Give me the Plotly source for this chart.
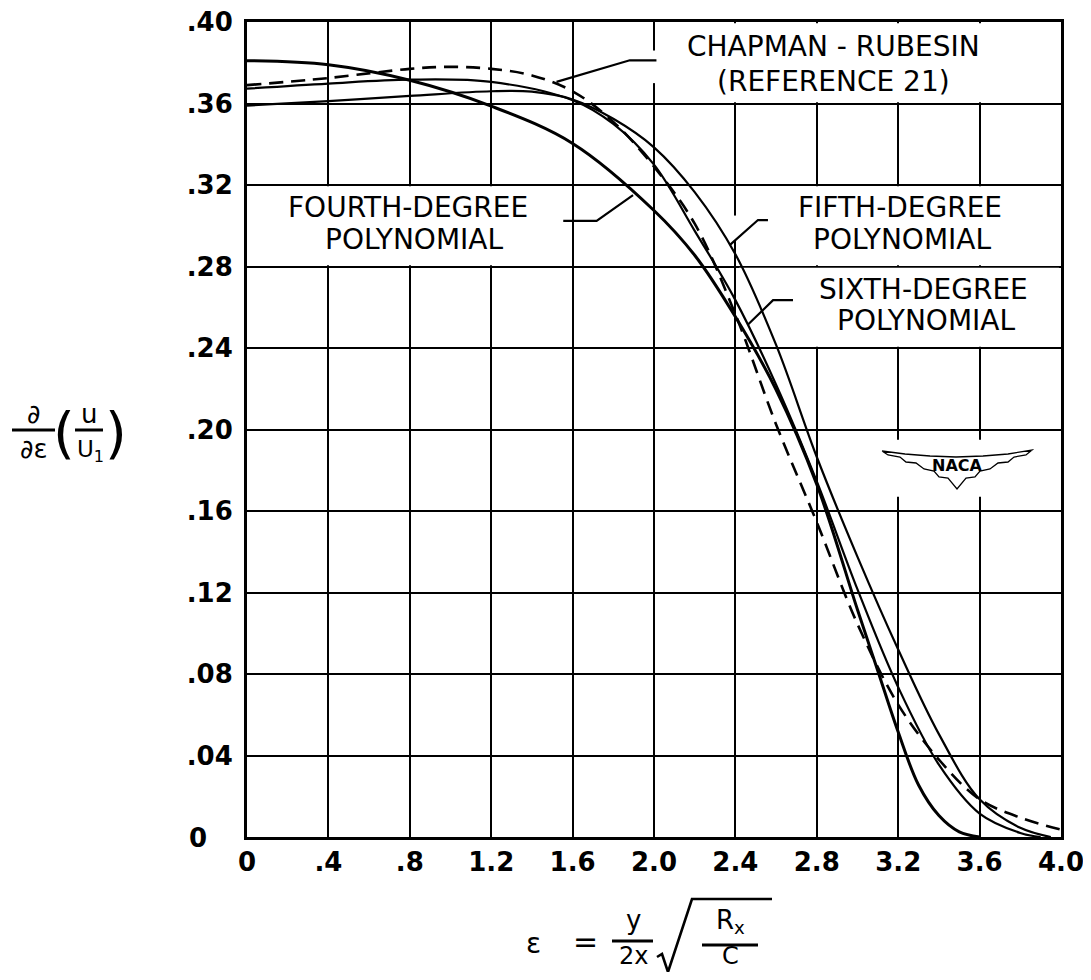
import plotly.graph_objects as go

# ---------------- data ----------------
x_tick_vals = [0, 0.4, 0.8, 1.2, 1.6, 2.0, 2.4, 2.8, 3.2, 3.6, 4.0]
x_tick_text = ["0", ".4", ".8", "1.2", "1.6", "2.0", "2.4", "2.8", "3.2", "3.6", "4.0"]
y_tick_vals = [0.04, 0.08, 0.12, 0.16, 0.20, 0.24, 0.28, 0.32, 0.36, 0.40]
y_tick_text = [".04", ".08", ".12", ".16", ".20", ".24", ".28", ".32", ".36", ".40"]

# Chapman-Rubesin (reference 21), dashed
cr_x = [0, 0.4, 0.8, 1.0, 1.2, 1.4, 1.6, 1.8, 2.0, 2.2, 2.4, 2.6, 2.8, 3.0, 3.2, 3.4, 3.6, 3.8, 4.0]
cr_y = [0.369, 0.3725, 0.377, 0.378, 0.377, 0.3738, 0.366, 0.351, 0.329, 0.301, 0.2565, 0.2025,
        0.1545, 0.1045, 0.065, 0.038, 0.0185, 0.0095, 0.0036]

# Fourth-degree polynomial
p4_x = [0, 0.4, 0.8, 1.2, 1.6, 2.0, 2.2, 2.4, 2.6, 2.8, 3.0, 3.1, 3.2, 3.3, 3.4, 3.5, 3.6]
p4_y = [0.381, 0.379, 0.3714, 0.3587, 0.3404, 0.3075, 0.2855, 0.2553, 0.2195, 0.173, 0.1115,
        0.0815, 0.0515, 0.0255, 0.0105, 0.0025, 0.0]

# Fifth-degree polynomial
p5_x = [0, 0.4, 0.8, 1.2, 1.4, 1.6, 1.8, 2.0, 2.2, 2.4, 2.6, 2.8, 3.0, 3.2, 3.4, 3.6, 3.8, 3.95]
p5_y = [0.359, 0.3612, 0.3637, 0.366, 0.3658, 0.362, 0.3525, 0.3385, 0.3165, 0.286, 0.2415,
        0.1865, 0.1375, 0.092, 0.0505, 0.0185, 0.0045, 0.0]

# Sixth-degree polynomial
p6_x = [0, 0.4, 0.8, 1.2, 1.6, 1.8, 2.0, 2.2, 2.4, 2.6, 2.8, 3.0, 3.2, 3.4, 3.6, 3.8, 3.9]
p6_y = [0.3673, 0.3698, 0.3717, 0.3706, 0.3616, 0.350, 0.330, 0.2975, 0.2635, 0.222, 0.1745,
        0.1215, 0.0735, 0.0355, 0.0115, 0.002, 0.0]

# ---------------- figure ----------------
# the page body has an 8px margin; the figure is sized so that it fills the window exactly
FIG_W, FIG_H = 1075, 964
OFF = 8
L, T, PW, PH = 239, 14, 814, 815
R = FIG_W - L - PW
B = FIG_H - T - PH


def pxp(x):  # window pixel -> paper
    return (x - OFF - L) / PW


def pyp(y):
    return 1 - (y - OFF - T) / PH


FONT = "DejaVu Sans"

fig = go.Figure()

curves = [
    (cr_x, cr_y, 2.6, "14px,8px"),
    (p5_x, p5_y, 2.2, "solid"),
    (p6_x, p6_y, 2.2, "solid"),
    (p4_x, p4_y, 3.0, "solid"),
]
for xs, ys, w, d in curves:
    fig.add_trace(go.Scatter(
        x=xs, y=ys, mode="lines",
        line=dict(color="black", width=w, dash=d, shape="spline", smoothing=1.0),
        hoverinfo="skip", showlegend=False))

shapes = []


def white_box(x0, x1, y0, y1):
    shapes.append(dict(type="rect", xref="x", yref="y", x0=x0, x1=x1, y0=y0, y1=y1,
                       fillcolor="white", line=dict(width=0), layer="between"))


# label boxes cutting the grid
white_box(2.02, 3.99, 0.3606, 0.3994)
white_box(1.99, 2.012, 0.370, 0.386)
white_box(0.01, 1.585, 0.2806, 0.3194)
white_box(2.418, 3.99, 0.2806, 0.3194)
white_box(2.418, 3.99, 0.2406, 0.2794)
white_box(2.39, 2.41, 0.2925, 0.305)
white_box(3.12, 3.86, 0.167, 0.195)


def leader(pts):
    path = "M " + " L ".join(f"{a},{b}" for a, b in pts)
    shapes.append(dict(type="path", xref="x", yref="y", path=path,
                       line=dict(color="black", width=2.2), layer="above"))


leader([(2.012, 0.3812), (1.881, 0.3812), (1.521, 0.3706)])
leader([(1.554, 0.3024), (1.718, 0.3024), (1.897, 0.315)])
leader([(2.56, 0.3028), (2.511, 0.3028), (2.372, 0.2905)])
leader([(2.683, 0.2635), (2.585, 0.2635), (2.462, 0.2515)])


def ppath(pts, width=1.4):
    path = "M " + " L ".join(f"{pxp(a):.5f},{pyp(b):.5f}" for a, b in pts)
    shapes.append(dict(type="path", xref="paper", yref="paper", path=path,
                       line=dict(color="black", width=width), layer="above"))


# NACA wing emblem
wing = [(882, 451), (905, 454), (930, 456), (956, 457), (983, 456), (1008, 454), (1032, 450),
        (1026, 455), (1014, 457), (1008, 462), (998, 463), (990, 469), (980, 471), (975, 477),
        (966, 478), (957, 489), (948, 478), (939, 477), (934, 471), (924, 469), (916, 463),
        (906, 462), (900, 457), (888, 455), (882, 451)]
ppath(wing, width=1.3)

# y-axis title: fraction bars
ppath([(12, 430), (55, 430)], width=3)
ppath([(75, 430), (103, 430)], width=3)
# x-axis title: fraction bars and radical
ppath([(612, 941), (653, 941)], width=3)
ppath([(702, 945), (758, 945)], width=3)
ppath([(657, 957), (662, 954), (668, 972), (692, 899), (772, 899)], width=2.6)

anns = []


def txt(s, x, y, size=28, weight="normal", xanchor="center"):
    anns.append(dict(text=s, x=pxp(x), y=pyp(y), xref="paper", yref="paper",
                     showarrow=False, xanchor=xanchor, yanchor="middle",
                     font=dict(family=FONT, size=size, color="black", weight=weight)))


# curve labels
txt("CHAPMAN - RUBESIN", 833, 46, 28)
txt("(REFERENCE 21)", 833, 81, 28)
txt("FOURTH-DEGREE", 408, 207, 28)
txt("POLYNOMIAL", 414, 239, 28)
txt("FIFTH-DEGREE", 900, 207, 28)
txt("POLYNOMIAL", 902, 239, 28)
txt("SIXTH-DEGREE", 923, 289, 28)
txt("POLYNOMIAL", 926, 320, 28)
txt("NACA", 957, 466, 16, "bold")

# y tick "0"
txt("0", 198, 838, 26, "bold")

# y-axis title
txt("∂", 33, 414, 26)
txt("∂ε", 34, 449, 26)
txt("(", 64, 432, 56)
txt("u", 89, 414, 26)
txt("U<sub>1</sub>", 90, 451, 23)
txt(")", 116, 432, 56)

# x-axis title
txt("ε", 533, 944, 28)
txt("=", 585, 942, 30)
txt("y", 633, 920, 26)
txt("2x", 633, 956, 24)
txt("R<sub>x</sub>", 730, 921, 26)
txt("C", 730, 956, 24)

axis_common = dict(showgrid=True, gridcolor="black", gridwidth=2.2,
                   showline=True, linecolor="black", linewidth=3, mirror=True,
                   zeroline=False, ticks="", ticklabeloverflow="allow",
                   tickfont=dict(family=FONT, size=26, color="black", weight="bold"))

fig.update_layout(
    width=FIG_W, height=FIG_H,
    margin=dict(l=L, r=R, t=T, b=B, autoexpand=False),
    paper_bgcolor="white", plot_bgcolor="white",
    showlegend=False,
    xaxis=dict(range=[0, 4], tickvals=x_tick_vals, ticktext=x_tick_text,
               ticklabelstandoff=0, **axis_common),
    yaxis=dict(range=[0, 0.4], tickvals=y_tick_vals, ticktext=y_tick_text,
               ticklabelstandoff=6, **axis_common),
    shapes=shapes,
    annotations=anns,
)

fig.write_html("out.html")
